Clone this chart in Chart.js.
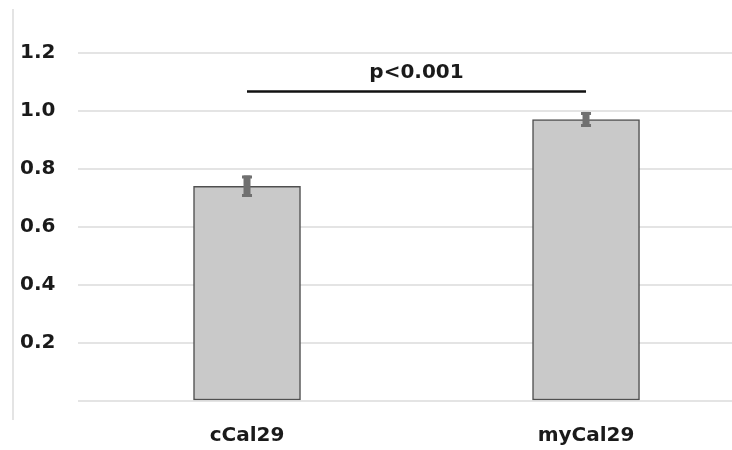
<!DOCTYPE html>
<html>
<head>
<meta charset="utf-8">
<script src="https://cdn.jsdelivr.net/npm/chart.js@4"></script>
<style>
html,body{margin:0;padding:0;background:#fff;overflow:hidden;}
#wrap{width:732px;height:450px;position:relative;}
</style>
</head>
<body>
<div id="wrap"><canvas id="c" width="732" height="450"></canvas></div>
<script>
const categories = ['cCal29', 'myCal29'];
const means = [0.74, 0.97];
const errors = [0.037, 0.026];
const yTicks = [0.2, 0.4, 0.6, 0.8, 1.0, 1.2];
const sigLabel = 'p<0.001';
const sigLevel = 1.066;

const FONT = '"DejaVu Sans", sans-serif';

const extras = {
  id: 'extras',
  afterDatasetsDraw(chart) {
    const ctx = chart.ctx;
    const x = chart.scales.x, y = chart.scales.y;
    ctx.save();
    // error bars
    ctx.strokeStyle = '#707070';
    means.forEach((m, i) => {
      const px = x.getPixelForValue(i);
      const top = y.getPixelForValue(m + errors[i]);
      const bot = y.getPixelForValue(m - errors[i]);
      ctx.lineWidth = 7;
      ctx.beginPath(); ctx.moveTo(px, top); ctx.lineTo(px, bot); ctx.stroke();
      ctx.lineWidth = 3;
      ctx.beginPath();
      ctx.moveTo(px - 5, top + 1.5); ctx.lineTo(px + 5, top + 1.5);
      ctx.moveTo(px - 5, bot - 1.5); ctx.lineTo(px + 5, bot - 1.5);
      ctx.stroke();
    });
    // significance line
    const x0 = x.getPixelForValue(0), x1 = x.getPixelForValue(1);
    const sy = y.getPixelForValue(sigLevel);
    ctx.strokeStyle = '#111';
    ctx.lineWidth = 2.5;
    ctx.beginPath(); ctx.moveTo(x0, sy); ctx.lineTo(x1, sy); ctx.stroke();
    ctx.fillStyle = '#1a1a1a';
    ctx.font = 'bold 20px ' + FONT;
    ctx.textAlign = 'center';
    ctx.textBaseline = 'alphabetic';
    ctx.fillText(sigLabel, (x0 + x1) / 2, sy - 14);
    // left frame line
    ctx.strokeStyle = '#e4e4e4';
    ctx.lineWidth = 2;
    ctx.beginPath(); ctx.moveTo(13, 9); ctx.lineTo(13, 420); ctx.stroke();
    ctx.restore();
  }
};

new Chart(document.getElementById('c'), {
  type: 'bar',
  data: {
    datasets: [{
      data: means.map((v, i) => ({ x: i, y: v })),
      backgroundColor: '#c9c9c9',
      borderColor: '#505050',
      borderWidth: 1.5,
      borderSkipped: false,
      barThickness: 107
    }]
  },
  options: {
    responsive: false,
    animation: false,
    layout: { padding: { top: 52.7, right: 0, left: 0, bottom: 0 } },
    plugins: { legend: { display: false }, tooltip: { enabled: false } },
    scales: {
      x: {
        type: 'linear',
        offset: false,
        bounds: 'ticks',
        min: -0.5,
        max: 1.4306,
        grid: { display: false, drawTicks: false, offset: false },
        border: { display: false },
        afterBuildTicks: (s) => { s.ticks = categories.map((_, i) => ({ value: i })); },
        afterFit: (s) => { s.height = 49; },
        ticks: {
          padding: 23,
          color: '#1a1a1a',
          font: { family: FONT, size: 20, weight: 'bold' },
          callback: (v) => categories[v]
        }
      },
      y: {
        min: 0,
        max: 1.2,
        afterBuildTicks: (s) => { s.ticks = [0].concat(yTicks).map(v => ({ value: v })); },
        afterFit: (s) => { s.width = 77.5; },
        grid: { color: '#e4e4e4', lineWidth: 2, drawTicks: false },
        border: { display: false },
        ticks: {
          padding: 22,
          color: '#1a1a1a',
          font: { family: FONT, size: 20, weight: 'bold' },
          callback: (v) => v === 0 ? '' : v.toFixed(1)
        }
      }
    }
  },
  plugins: [extras]
});
</script>
</body>
</html>
